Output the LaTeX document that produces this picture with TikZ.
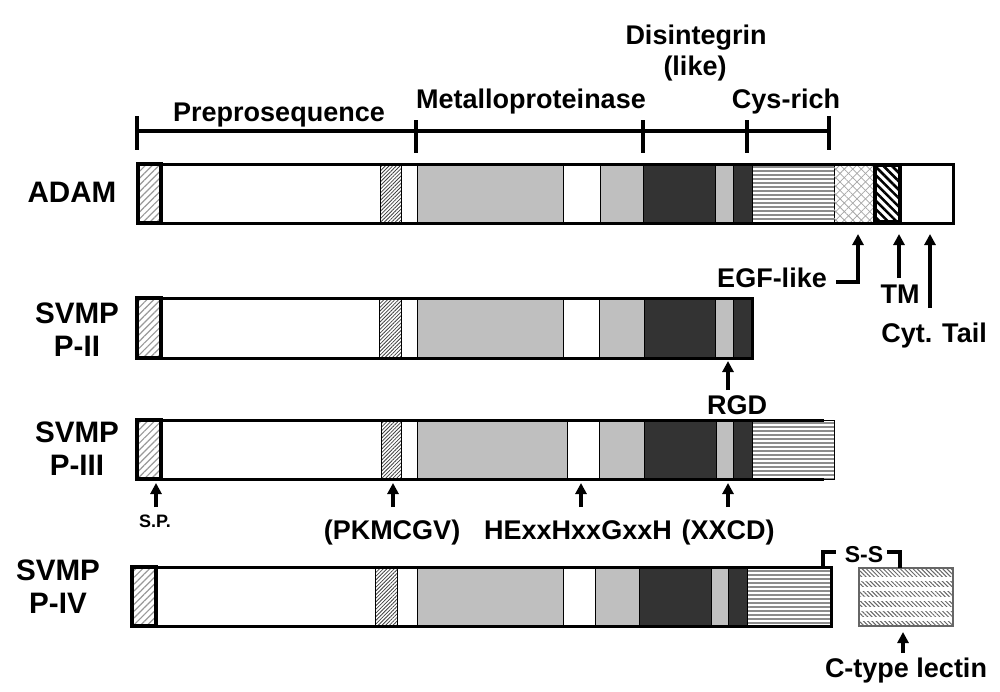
\documentclass[tikz,border=0pt]{standalone}
\usepackage{fontspec}
\setmainfont{Liberation Sans}
\usetikzlibrary{arrows.meta,patterns.meta}
\newcommand\barrange[2]{\def\ytp{#1}\def\ybt{#2}}
\newcommand\segm[3]{\draw[segline,#3] (#1,\ytp) rectangle (#2,\ybt);}
\begin{document}
\begin{tikzpicture}[x=0.5pt,y=-0.5pt,
  segline/.style={draw=black, line width=0.5pt},
  wh/.style={fill=white},
  mp/.style={fill=black!25},
  dis/.style={fill=black!80},
  sp/.style={pattern={Lines[angle=45,distance=2.4pt,line width=0.6pt]}, pattern color=black!40},
  pro/.style={pattern={Lines[angle=45,distance=1.3pt,line width=0.4pt]}, pattern color=black!75},
  cys/.style={pattern={Lines[angle=0,distance=2pt,line width=0.8pt]}, pattern color=black!45},
  egfa/.style={pattern={Lines[angle=45,distance=3pt,line width=0.4pt]}, pattern color=black!35},
  egfb/.style={pattern={Lines[angle=-45,distance=3pt,line width=0.4pt]}, pattern color=black!35},
  tm/.style={pattern={Lines[angle=-45,distance=3pt,line width=1.3pt]}, pattern color=black},
  lec/.style={pattern={Lines[angle=-45,distance=1.5pt,line width=0.5pt]}, pattern color=black!60},
  outer/.style={draw=black, line width=1.5pt},
  thickbox/.style={draw=black, line width=2pt},
  rule/.style={line width=1.6pt},
  tick/.style={line width=2pt},
  arr/.style={line width=1.6pt, -{Triangle[width=5.5pt,length=5.5pt]}},
  lbl/.style={font=\fontsize{13.5}{15}\selectfont\bfseries, inner sep=0pt, anchor=base},
  small/.style={font=\fontsize{9}{10}\selectfont\bfseries, inner sep=0pt, anchor=base},
  ss/.style={font=\fontsize{11.5}{13}\selectfont\bfseries, inner sep=0pt, anchor=base},
  pname/.style={font=\fontsize{14.8}{16.5}\selectfont\bfseries, inner sep=0pt, align=center},
]
\useasboundingbox (0,0) rectangle (1000,691);
\fill[white] (0,0) rectangle (1000,691);

% ---- top ruler ----
\draw[rule] (137,131) -- (829,131);
\draw[tick] (137,116) -- (137,150);
\draw[tick] (416,120) -- (416,153);
\draw[tick] (643,120) -- (643,153);
\draw[tick] (747,120) -- (747,153);
\draw[tick] (829,116) -- (829,150);
\node[lbl] (prepro) at (279,121) {Preprosequence};
\node[lbl] (metallo) at (531,108) {Metalloproteinase};
\node[lbl] (disint) at (696,44) {Disintegrin};
\node[lbl] (like) at (695,75) {(like)};
\node[lbl] (cysrich) at (786,108) {Cys-rich};

% ---- ADAM ----
\node[pname] (adam) at (72,192) {ADAM};
\barrange{164}{223}
\segm{161}{380}{wh}
\segm{380}{401}{pro}
\segm{401}{417}{wh}
\segm{417}{563}{mp}
\segm{563}{600}{wh}
\segm{600}{643}{mp}
\segm{643}{715}{dis}
\segm{715}{733}{mp}
\segm{733}{752}{dis}
\segm{752}{834}{cys}
\segm{834}{874}{egfa}
\fill[egfb] (834,\ytp) rectangle (874,\ybt);
\segm{900}{953}{wh}
\draw[outer] (137,164) rectangle (953,223);
\draw[thickbox,sp] (137.5,164) rectangle (161,223);
\draw[thickbox,tm] (875,165) rectangle (900,222);

\node[lbl] (egf) at (772,287) {EGF-like};
\node[lbl] (tmlab) at (900,303) {TM};
\node[lbl] (cyt) at (934,342) {Cyt. Tail};
\coordinate (egfbend) at (858,282);
\coordinate (egfstart) at (836,282);
\coordinate (egftip) at (858,234);
\coordinate (tmtail) at (899,278);
\coordinate (tmtip) at (899,234);
\coordinate (cyttail) at (930,308);
\coordinate (cyttip) at (930,234);
\draw[arr] (egfstart) -- (egfbend) -- (egftip);
\draw[arr] (tmtail) -- (tmtip);
\draw[arr] (cyttail) -- (cyttip);

% ---- SVMP P-II ----
\node[pname] (p2) at (77,330) {SVMP\\P-II};
\barrange{298}{358}
\segm{161}{379}{wh}
\segm{379}{401}{pro}
\segm{401}{417}{wh}
\segm{417}{563}{mp}
\segm{563}{599}{wh}
\segm{599}{644}{mp}
\segm{644}{715}{dis}
\segm{715}{733}{mp}
\segm{733}{752}{dis}
\draw[outer] (136,298) rectangle (752,358);
\draw[thickbox,sp] (136.5,298) rectangle (161,358);
\node[lbl] (rgd) at (737,414) {RGD};
\coordinate (rgdtail) at (728,390);
\coordinate (rgdtip) at (728,361);
\draw[arr] (rgdtail) -- (rgdtip);

% ---- SVMP P-III ----
\node[pname] (p3) at (77,449) {SVMP\\P-III};
\barrange{420}{479}
\segm{161}{381}{wh}
\segm{381}{401}{pro}
\segm{401}{417}{wh}
\segm{417}{567}{mp}
\segm{567}{599}{wh}
\segm{599}{644}{mp}
\segm{644}{716}{dis}
\segm{716}{733}{mp}
\segm{733}{752}{dis}
\segm{752}{834}{cys}
\draw[outer] (824,420) -- (136,420) -- (136,479) -- (824,479);
\draw[thickbox,sp] (136.5,420) rectangle (161,479);

\node[small] (splab) at (155,527) {S.P.};
\node[lbl] (pkm) at (392,539) {(PKMCGV)};
\node[lbl] (hexx) at (578,539) {HExxHxxGxxH};
\node[lbl] (xxcd) at (728,539) {(XXCD)};
\coordinate (sptail) at (156,507);
\coordinate (sptip) at (156,483);
\coordinate (pkmtail) at (393,507);
\coordinate (pkmtip) at (393,483);
\coordinate (hextail) at (581,507);
\coordinate (hextip) at (581,483);
\coordinate (xxtail) at (728,507);
\coordinate (xxtip) at (728,483);
\draw[arr] (sptail) -- (sptip);
\draw[arr] (pkmtail) -- (pkmtip);
\draw[arr] (hextail) -- (hextip);
\draw[arr] (xxtail) -- (xxtip);

% ---- SVMP P-IV ----
\node[pname] (p4) at (58,587) {SVMP\\P-IV};
\barrange{567}{626}
\segm{156}{375}{wh}
\segm{375}{397}{pro}
\segm{397}{417}{wh}
\segm{417}{563}{mp}
\segm{563}{595}{wh}
\segm{595}{639}{mp}
\segm{639}{711}{dis}
\segm{711}{728}{mp}
\segm{728}{747}{dis}
\segm{747}{831}{cys}
\draw[outer] (131,567) rectangle (831,626);
\draw[thickbox,sp] (131.5,567) rectangle (156,626);

% C-type lectin
\draw[draw=black!60, line width=0.6pt, lec] (859,568) rectangle (953,626);
\foreach \yy in {579,589,599,609,619}
  \draw[white, line width=1.6pt] (860,\yy) -- (952,\yy);
\draw[draw=black!60, line width=0.6pt] (859,568) rectangle (953,626);
\node[ss] (sslab) at (864,562) {S-S};
\coordinate (ssa) at (823,568);
\coordinate (ssb) at (823,552);
\coordinate (ssc) at (836,552);
\coordinate (ssd) at (887,552);
\coordinate (sse) at (900,552);
\coordinate (ssf) at (900,568);
\draw[line width=2pt] (ssa) -- (ssb) -- (ssc);
\draw[line width=2pt] (ssd) -- (sse) -- (ssf);
\node[lbl] (ctype) at (906,677) {C-type lectin};
\coordinate (cttail) at (903,653);
\coordinate (cttip) at (903,632);
\draw[arr] (cttail) -- (cttip);
\end{tikzpicture}
\end{document}
